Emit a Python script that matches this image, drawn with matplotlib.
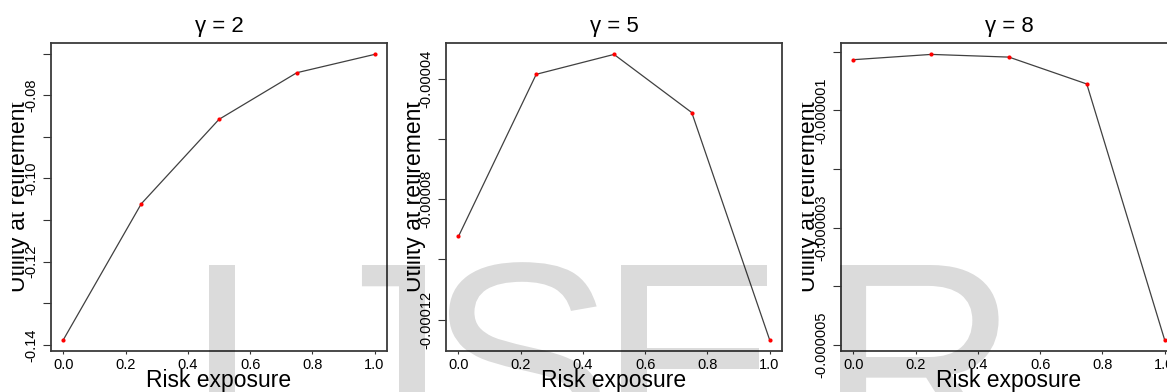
import matplotlib
matplotlib.use("Agg")
import matplotlib.pyplot as plt
from matplotlib.transforms import Bbox, TransformedBbox, Affine2D
from matplotlib.textpath import TextPath
from matplotlib.font_manager import FontProperties
from matplotlib.patches import PathPatch

plt.rcParams['font.family'] = ['Liberation Sans', 'DejaVu Sans']

# data
risk = [0.0, 0.25, 0.5, 0.75, 1.0]
util_g2 = [-0.1387, -0.1061, -0.0858, -0.0746, -0.0702]
util_g5 = [-9.24e-5, -3.86e-5, -3.20e-5, -5.13e-5, -1.266e-4]
util_g8 = [-1.36e-7, -0.46e-7, -0.92e-7, -5.5e-7, -4.906e-6]
titles = ["\u03b3 = 2", "\u03b3 = 5", "\u03b3 = 8"]

xticks = [0.0, 0.2, 0.4, 0.6, 0.8, 1.0]
xticklabels = ["0.0", "0.2", "0.4", "0.6", "0.8", "1.0"]
yticks_g2 = [-0.14, -0.13, -0.12, -0.11, -0.10, -0.09, -0.08, -0.07]
ylabels_g2 = ["-0.14", "", "-0.12", "", "-0.10", "", "-0.08", ""]
yticks_g5 = [-1.2e-4, -1.0e-4, -8e-5, -6e-5, -4e-5]
ylabels_g5 = ["-0.00012", "", "-0.00008", "", "-0.00004"]
yticks_g8 = [-5e-6, -4e-6, -3e-6, -2e-6, -1e-6, 0.0]
ylabels_g8 = ["-0.000005", "", "-0.000003", "", "-0.000001", ""]

W, H = 1167, 392
fig = plt.figure(figsize=(W / 100, H / 100), dpi=100)

lefts = [51, 446, 841]
ax_w = 336
top, bottom = 43, 351

series = [util_g2, util_g5, util_g8]
yticks = [yticks_g2, yticks_g5, yticks_g8]
ylabs = [ylabels_g2, ylabels_g5, ylabels_g8]

for i in range(3):
    left = lefts[i]
    ax = fig.add_axes([left / W, 1 - bottom / H, ax_w / W, (bottom - top) / H])
    y = series[i]
    ax.plot(risk, y, color='#404040', lw=0.9, zorder=2)
    ax.plot(risk, y, 'o', color='red', ms=3, mec='none', zorder=3)

    # R style 4% padding
    lo, hi = min(y), max(y)
    pad = 0.04 * (hi - lo)
    ax.set_ylim(lo - pad, hi + pad)
    ax.set_xlim(-0.04, 1.04)

    ax.set_xticks(xticks)
    ax.set_xticklabels(xticklabels)
    ax.set_yticks(yticks[i])
    ax.set_yticklabels(ylabs[i], rotation=90, va='center')
    ax.tick_params(axis='x', length=2, pad=3, labelsize=10.5, color='#333333')
    ax.tick_params(axis='y', length=6, pad=3, labelsize=10.5, color='#333333')
    for s in ax.spines.values():
        s.set_color('#3a3a3a')
        s.set_linewidth(1.3)

    ax.set_title(titles[i], fontsize=16, pad=8)
    ax.set_xlabel("Risk exposure", fontsize=16.5)
    ax.xaxis.label.set_va('baseline')
    ax.xaxis.set_label_coords(0.5, -(386.7 - bottom) / (bottom - top))

    # cropped y label, as in the source image
    t = fig.text((left - 25.5) / W, 1 - 197 / H, "Utility at retirement",
                 fontsize=16.5, rotation=90, rotation_mode='anchor',
                 ha='center', va='baseline')
    clip = TransformedBbox(Bbox.from_extents((left - 39.5) / W, 0, left / W, 1),
                           fig.transFigure)
    t.set_clip_box(clip)
    t.set_clip_on(True)

# watermark, letters as outlines placed by their ink edges (pixel units, y up)
em = 280
fp = FontProperties(family='Liberation Sans')
cap = TextPath((0, 0), "I", size=em, prop=fp).get_extents().y1
base_up = H - (265 + cap)
px = Affine2D().scale(1 / W, 1 / H) + fig.transFigure
marks = [("I", 209, 'left'), ("J", 425, 'right'), ("S", 440, 'left'),
         ("E", 621, 'left'), ("R", 840, 'left')]
for letter, xe, side in marks:
    ext = TextPath((0, 0), letter, size=em, prop=fp).get_extents()
    x0 = xe - ext.x0 if side == 'left' else xe - ext.x1
    tp = TextPath((x0, base_up), letter, size=em, prop=fp)
    fig.patches.append(PathPatch(tp, transform=px, facecolor='k', edgecolor='none',
                                 alpha=0.14, zorder=10, figure=fig))

fig.savefig("out.png", dpi=100)
